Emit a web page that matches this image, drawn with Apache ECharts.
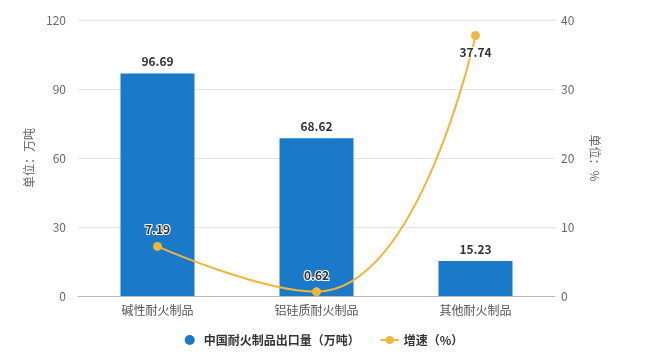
<!DOCTYPE html>
<html>
<head>
<meta charset="utf-8">
<script src="https://cdn.jsdelivr.net/npm/echarts@6/dist/echarts.min.js"></script>
<style>
  html, body { margin: 0; padding: 0; background: #fff; }
  #main { width: 648px; height: 355px; }
</style>
</head>
<body>
<div id="main"></div>
<script>
var categories = ['碱性耐火制品', '铝硅质耐火制品', '其他耐火制品'];
var exportVolume = [96.69, 68.62, 15.23];
var growthRate = [7.19, 0.62, 37.74];
var leftTicks = [0, 30, 60, 90, 120];
var rightTicks = [0, 10, 20, 30, 40];

var myChart = echarts.init(document.getElementById('main'));
var FONT = '"Noto Sans CJK SC", "Noto Sans", sans-serif';

// 增速标签：最后一个点放在下方
var lineData = growthRate.map(function (v, i) {
    var item = { value: v };
    if (i == growthRate.length - 1)
        item.label = { position: 'bottom' };
    return item;
});

var option = {
    textStyle: { fontFamily: FONT },
    grid: { left: 78, right: 93, top: 20, bottom: 59 },
    legend: {
        bottom: 4,
        left: 'center',
        itemGap: 20,
        itemWidth: 18,
        itemHeight: 10,
        textStyle: { color: '#333', fontSize: 12, fontWeight: 'bold' },
        data: [
            { name: '中国耐火制品出口量（万吨）', icon: 'circle' },
            { name: '增速（%）' }
        ]
    },
    xAxis: {
        type: 'category',
        data: categories,
        axisTick: { alignWithLabel: true, lineStyle: { color: '#bbb' } },
        axisLine: { lineStyle: { color: '#bbb' } },
        axisLabel: { color: '#555', fontSize: 12, margin: 8 }
    },
    yAxis: [
        {
            type: 'value',
            min: leftTicks[0],
            max: leftTicks[leftTicks.length - 1],
            interval: 30,
            name: '单位：万吨',
            nameLocation: 'middle',
            nameGap: 42,
            nameTextStyle: { color: '#666', fontSize: 12 },
            axisLine: { show: false },
            axisTick: { show: false },
            axisLabel: { color: '#666', fontSize: 12, margin: 12 },
            splitLine: { lineStyle: { color: '#e3e3e3' } }
        },
        {
            type: 'value',
            min: rightTicks[0],
            max: rightTicks[rightTicks.length - 1],
            interval: 10,
            name: '单位：%',
            nameLocation: 'middle',
            nameRotate: -90,
            nameGap: 34,
            nameTextStyle: { color: '#666', fontSize: 12 },
            axisLine: { show: false },
            axisTick: { show: false },
            axisLabel: { color: '#666', fontSize: 12, margin: 6 },
            splitLine: { show: false }
        }
    ],
    series: [
        {
            name: '中国耐火制品出口量（万吨）',
            type: 'bar',
            data: exportVolume,
            barWidth: 74,
            itemStyle: { color: '#1a79c9' },
            label: {
                show: true,
                position: 'top',
                color: '#333',
                fontSize: 12,
                fontWeight: 'bold',
                distance: 6
            }
        },
        {
            name: '增速（%）',
            type: 'line',
            yAxisIndex: 1,
            data: lineData,
            smooth: 0.5,
            symbol: 'circle',
            symbolSize: 9,
            itemStyle: { color: '#efb73a' },
            lineStyle: { color: '#efb73a', width: 2 },
            label: {
                show: true,
                position: 'top',
                color: '#333',
                fontSize: 12,
                fontWeight: 'bold',
                textBorderColor: '#fff',
                textBorderWidth: 2,
                distance: 6
            }
        }
    ]
};

myChart.setOption(option);
</script>
</body>
</html>
